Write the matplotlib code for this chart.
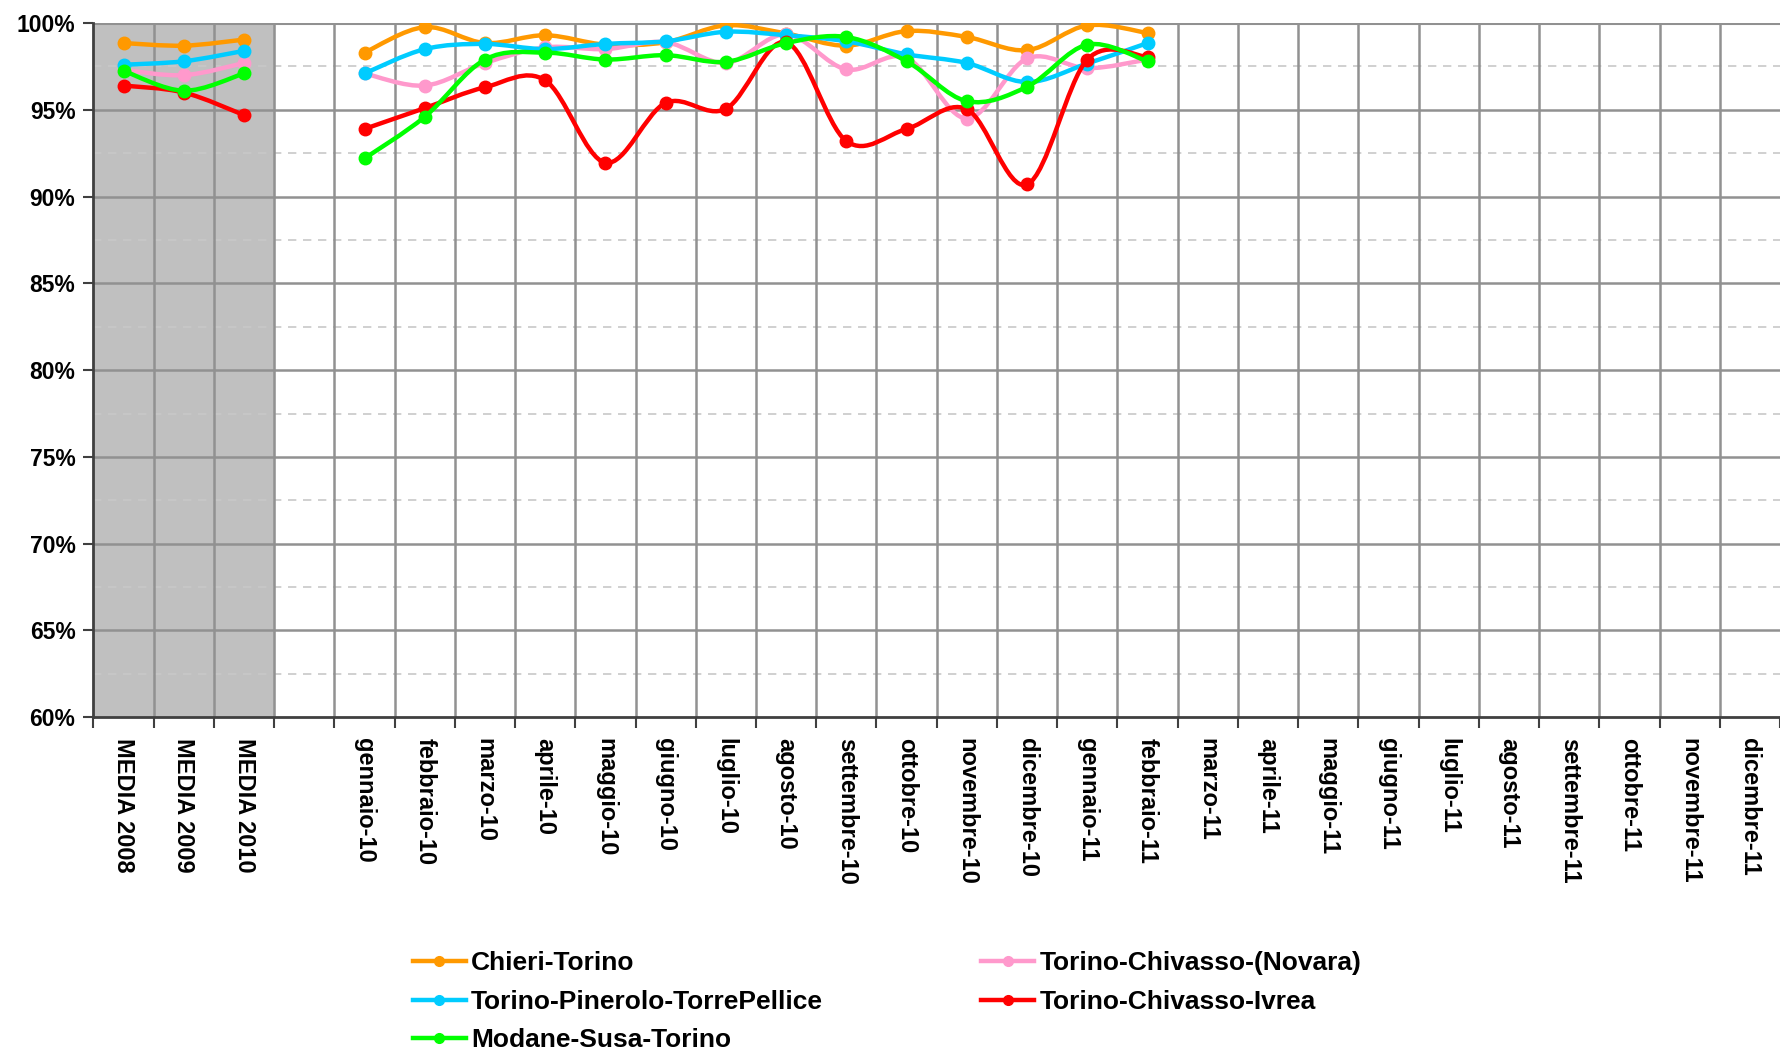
import numpy as np
import matplotlib
matplotlib.use("Agg")
import matplotlib.pyplot as plt
from matplotlib.path import Path
from matplotlib.patches import PathPatch
from matplotlib.lines import Line2D
from matplotlib import font_manager

nan = np.nan

categories = ['MEDIA 2008', 'MEDIA 2009', 'MEDIA 2010', '',
              'gennaio-10', 'febbraio-10', 'marzo-10', 'aprile-10', 'maggio-10', 'giugno-10',
              'luglio-10', 'agosto-10', 'settembre-10', 'ottobre-10', 'novembre-10', 'dicembre-10',
              'gennaio-11', 'febbraio-11', 'marzo-11', 'aprile-11', 'maggio-11', 'giugno-11',
              'luglio-11', 'agosto-11', 'settembre-11', 'ottobre-11', 'novembre-11', 'dicembre-11']

empty_2011 = [nan] * 10

chieri = [98.85, 98.7, 99.05, nan,
          98.3, 99.77, 98.85, 99.3, 98.76, 98.9, 99.87, 99.4, 98.7, 99.54, 99.2, 98.44,
          99.87, 99.43] + empty_2011
novara = [97.3, 97.0, 97.7, nan,
          97.1, 96.4, 97.7, 98.6, 98.5, 98.9, 97.7, 99.35, 97.33, 98.0, 94.5, 97.96,
          97.4, 97.9] + empty_2011
pinerolo = [97.6, 97.8, 98.4, nan,
            97.1, 98.5, 98.8, 98.5, 98.8, 98.95, 99.5, 99.3, 98.95, 98.2, 97.7, 96.6,
            97.67, 98.85] + empty_2011
ivrea = [96.4, 96.0, 94.7, nan,
         93.9, 95.1, 96.3, 96.7, 91.95, 95.4, 95.06, 98.9, 93.2, 93.9, 95.04, 90.7,
         97.9, 98.05] + empty_2011
modane = [97.25, 96.1, 97.1, nan,
          92.2, 94.6, 97.9, 98.3, 97.9, 98.15, 97.77, 98.85, 99.2, 97.8, 95.5, 96.33,
          98.76, 97.8] + empty_2011

# drawing order (bottom to top), legend order handled separately
series = [
    ('Chieri-Torino', chieri, '#FF9900'),
    ('Torino-Chivasso-(Novara)', novara, '#FF99CC'),
    ('Torino-Pinerolo-TorrePellice', pinerolo, '#00CCFF'),
    ('Torino-Chivasso-Ivrea', ivrea, '#FF0000'),
    ('Modane-Susa-Torino', modane, '#00FF00'),
]
legend_order = ['Chieri-Torino', 'Torino-Pinerolo-TorrePellice', 'Modane-Susa-Torino',
                'Torino-Chivasso-(Novara)', 'Torino-Chivasso-Ivrea']

names = {f.name for f in font_manager.fontManager.ttflist}
narrow = 'Liberation Sans Narrow' if 'Liberation Sans Narrow' in names else 'Liberation Sans'
plt.rcParams['font.family'] = ['Liberation Sans', 'DejaVu Sans']


def smooth_path(xs, ys):
    # Excel-like smoothed line: Catmull-Rom segments drawn as cubic Bezier curves
    verts, codes = [], []
    n = len(xs)
    for i in range(n - 1):
        p0 = np.array([xs[max(i - 1, 0)], ys[max(i - 1, 0)]])
        p1 = np.array([xs[i], ys[i]])
        p2 = np.array([xs[i + 1], ys[i + 1]])
        p3 = np.array([xs[min(i + 2, n - 1)], ys[min(i + 2, n - 1)]])
        c1 = p1 + (p2 - p0) / 6.0
        c2 = p2 - (p3 - p1) / 6.0
        if i == 0:
            verts.append(p1)
            codes.append(Path.MOVETO)
        verts += [c1, c2, p2]
        codes += [Path.CURVE4] * 3
    return Path(verts, codes)


fig = plt.figure(figsize=(17.8, 10.5), dpi=100)
ax = fig.add_axes([0.0525, 0.317, 0.9475, 0.661])

x = np.arange(len(categories))
ax.set_xlim(-0.5, len(categories) - 0.5)
ax.set_ylim(60, 100)

ax.axvspan(-0.5, 2.5, color='#C0C0C0', zorder=0)

# grid
for yv in np.arange(62.5, 100, 5):
    ax.axhline(yv, color='#C8C8C8', lw=1.2, ls=(0, (5, 4)), zorder=1)
for yv in np.arange(65, 101, 5):
    ax.axhline(yv, color='#919191', lw=1.8, zorder=1)
for xv in np.arange(0.5, len(categories) - 0.5, 1):
    ax.axvline(xv, color='#919191', lw=1.8, zorder=1)

handles = {}
for k, (name, vals, col) in enumerate(series):
    v = np.array(vals, dtype=float)
    ok = ~np.isnan(v)
    # split into contiguous runs
    idx = np.where(ok)[0]
    runs = np.split(idx, np.where(np.diff(idx) > 1)[0] + 1)
    for r in runs:
        if len(r) > 1:
            p = smooth_path(x[r], v[r])
            ax.add_patch(PathPatch(p, facecolor='none', edgecolor=col, lw=3.2,
                                   capstyle='round', joinstyle='round', zorder=3 + k))
    ax.plot(x[ok], v[ok], ls='none', marker='o', ms=9, color=col, zorder=3 + k)
    handles[name] = Line2D([], [], color=col, lw=3.2, marker='o', ms=7)

ax.set_yticks(np.arange(60, 101, 5))
ax.set_yticklabels(['%d%%' % t for t in range(60, 101, 5)], fontsize=16.5, fontweight='bold')
ax.tick_params(axis='y', direction='out', length=7, width=1.5, color='#404040', pad=6)

ax.set_xticks(np.arange(-0.5, len(categories), 1))
ax.set_xticklabels([])
ax.set_xticks(x, minor=True)
ax.set_xticklabels(categories, minor=True, rotation=270, fontsize=17, fontweight='bold',
                   ha='center', va='top')
ax.tick_params(axis='x', which='major', direction='out', length=8, width=1.5, color='#404040')
ax.tick_params(axis='x', which='minor', length=0, pad=15)

for s in ['top', 'right']:
    ax.spines[s].set_visible(False)
ax.axhline(100, color='#919191', lw=2.2, zorder=2)
ax.spines['left'].set_color('#404040')
ax.spines['left'].set_linewidth(2)
ax.spines['bottom'].set_color('#404040')
ax.spines['bottom'].set_linewidth(2)

leg = fig.legend([handles[n] for n in legend_order], legend_order, ncol=2,
                 loc='upper left', bbox_to_anchor=(0.226, 0.104), frameon=False,
                 handlelength=2.0, handletextpad=0.2, columnspacing=6.0, labelspacing=0.55,
                 borderaxespad=0,
                 prop={'family': narrow, 'weight': 'bold', 'size': 19})

fig.savefig('out.png', dpi=100)
